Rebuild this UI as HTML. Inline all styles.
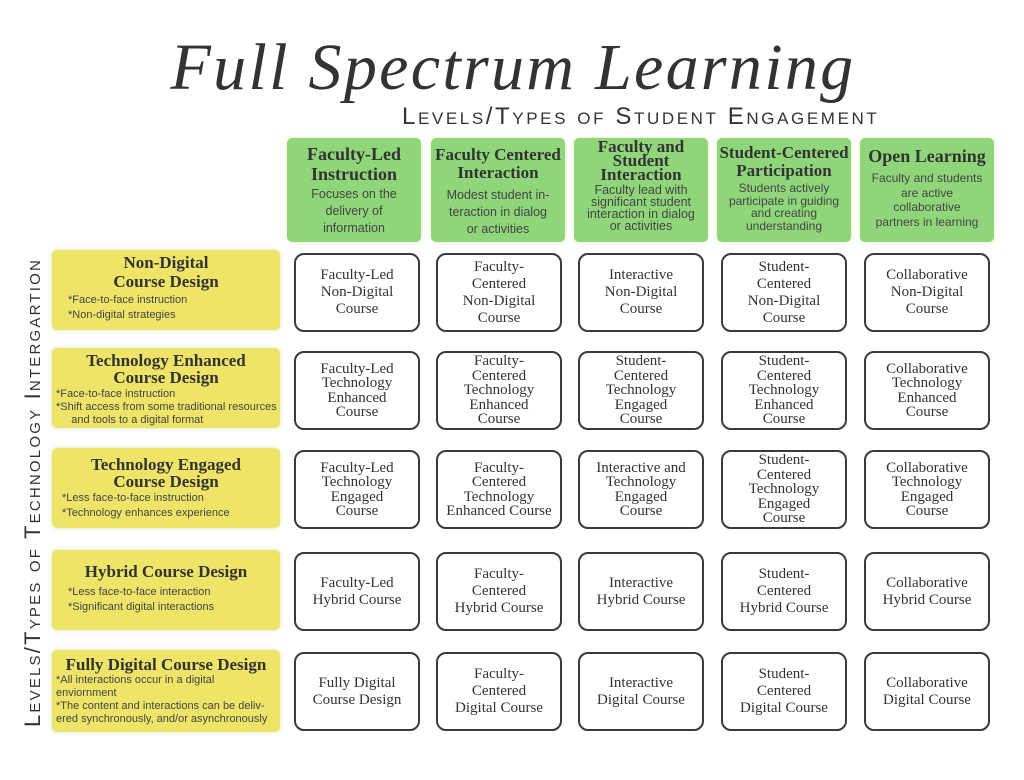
<!DOCTYPE html>
<html><head><meta charset="utf-8"><style>
*{margin:0;padding:0;box-sizing:border-box}
body{width:1024px;height:780px;background:#fff;position:relative;overflow:hidden;color:#333;font-family:"Liberation Sans",sans-serif}
.a{position:absolute}
.title{left:0;width:1024px;top:30px;text-align:center;font-family:"Liberation Serif",serif;font-style:italic;font-size:66px;color:#333;letter-spacing:2.3px;padding-left:2px}
.sub{left:402px;top:103px;font-size:24px;font-variant:small-caps;letter-spacing:2.6px;color:#333;white-space:nowrap}
.vert{left:20px;top:730px;transform-origin:0 0;transform:rotate(-90deg);font-size:22px;font-variant:small-caps;letter-spacing:2.2px;white-space:nowrap;width:475px;text-align:center}
.g{background:#8fd67a;border-radius:5px;box-shadow:0 0 4px #eee9b8;text-align:center;width:134px;height:104px;top:138px;padding-top:4px}
.g b{display:block;font-family:"Liberation Serif",serif;font-size:17px;line-height:18px;color:#333}
.g span{display:block;font-size:12.5px;line-height:17px;color:#444;margin-top:2px}
.y{background:#ede468;border-radius:5px;box-shadow:0 0 4px #cfe9b0;left:52px;width:228px;height:80px}
.y b{display:block;text-align:center;font-family:"Liberation Serif",serif;font-size:17px;line-height:17px;font-weight:bold;color:#333}
.y span{display:block;font-size:11px;line-height:14.5px;color:#444}
.c{border:2px solid #3a3a3a;border-radius:10px;width:126px;height:79px;display:flex;align-items:center;justify-content:center;text-align:center;font-family:"Liberation Serif",serif;font-size:15px;line-height:17px;color:#333}
.c.t{line-height:14.5px}
</style></head><body>
<div class="a title">Full Spectrum Learning</div>
<div class="a sub">Levels/Types of Student Engagement</div>
<div class="a vert">Levels/Types of Technology Intergartion</div>

<div class="a g" style="left:287px"><b style="font-size:18px;line-height:20px;margin-top:2px">Faculty-Led<br>Instruction</b><span>Focuses on the<br>delivery of<br>information</span></div>
<div class="a g" style="left:431px"><b style="margin-top:4px">Faculty Centered<br>Interaction</b><span style="margin-top:5px">Modest student in-<br>teraction in dialog<br>or activities</span></div>
<div class="a g" style="left:574px;padding-top:2px"><b style="font-size:17px;line-height:14px">Faculty and<br>Student<br>Interaction</b><span style="line-height:12px;font-size:12.5px">Faculty lead with<br>significant student<br>interaction in dialog<br>or activities</span></div>
<div class="a g" style="left:717px"><b style="margin-top:2px">Student-Centered<br>Participation</b><span style="line-height:12.5px;font-size:12px">Students actively<br>participate in guiding<br>and creating<br>understanding</span></div>
<div class="a g" style="left:860px"><b style="margin-top:5px;font-size:18px">Open Learning</b><span style="margin-top:6px;line-height:14.5px;font-size:12px">Faculty and students<br>are active<br>collaborative<br>partners in learning</span></div>

<div class="a y" style="top:250px;padding-top:3px"><b style="line-height:19px">Non-Digital<br>Course Design</b><span style="padding-left:16px;margin-top:2px">*Face-to-face instruction<br>*Non-digital strategies</span></div>
<div class="a y" style="top:348px;padding-top:4px"><b>Technology Enhanced<br>Course Design</b><span style="padding-left:4px;line-height:13px;margin-top:2px">*Face-to-face instruction<br>*Shift access from some traditional resources<br>&nbsp;&nbsp;&nbsp;&nbsp;&nbsp;and tools to a digital format</span></div>
<div class="a y" style="top:448px;padding-top:8px"><b>Technology Engaged<br>Course Design</b><span style="padding-left:10px;margin-top:1px">*Less face-to-face instruction<br>*Technology enhances experience</span></div>
<div class="a y" style="top:550px;padding-top:13px"><b>Hybrid Course Design</b><span style="padding-left:16px;margin-top:5px">*Less face-to-face interaction<br>*Significant digital interactions</span></div>
<div class="a y" style="top:650px;padding-top:6px;height:82px"><b>Fully Digital Course Design</b><span style="padding-left:4px;line-height:13px;margin-top:1px">*All interactions occur in a digital<br>enviornment<br>*The content and interactions can be deliv-<br>ered synchronously, and/or asynchronously</span></div>

<div class="a c" style="left:294px;top:253px">Faculty-Led<br>Non-Digital<br>Course</div>
<div class="a c" style="left:436px;top:253px">Faculty-<br>Centered<br>Non-Digital<br>Course</div>
<div class="a c" style="left:578px;top:253px">Interactive<br>Non-Digital<br>Course</div>
<div class="a c" style="left:721px;top:253px">Student-<br>Centered<br>Non-Digital<br>Course</div>
<div class="a c" style="left:864px;top:253px">Collaborative<br>Non-Digital<br>Course</div>

<div class="a c t" style="left:294px;top:351px">Faculty-Led<br>Technology<br>Enhanced<br>Course</div>
<div class="a c t" style="left:436px;top:351px">Faculty-<br>Centered<br>Technology<br>Enhanced<br>Course</div>
<div class="a c t" style="left:578px;top:351px">Student-<br>Centered<br>Technology<br>Engaged<br>Course</div>
<div class="a c t" style="left:721px;top:351px">Student-<br>Centered<br>Technology<br>Enhanced<br>Course</div>
<div class="a c t" style="left:864px;top:351px">Collaborative<br>Technology<br>Enhanced<br>Course</div>

<div class="a c t" style="left:294px;top:450px">Faculty-Led<br>Technology<br>Engaged<br>Course</div>
<div class="a c t" style="left:436px;top:450px">Faculty-<br>Centered<br>Technology<br>Enhanced Course</div>
<div class="a c t" style="left:578px;top:450px">Interactive and<br>Technology<br>Engaged<br>Course</div>
<div class="a c t" style="left:721px;top:450px">Student-<br>Centered<br>Technology<br>Engaged<br>Course</div>
<div class="a c t" style="left:864px;top:450px">Collaborative<br>Technology<br>Engaged<br>Course</div>

<div class="a c" style="left:294px;top:552px">Faculty-Led<br>Hybrid Course</div>
<div class="a c" style="left:436px;top:552px">Faculty-<br>Centered<br>Hybrid Course</div>
<div class="a c" style="left:578px;top:552px">Interactive<br>Hybrid Course</div>
<div class="a c" style="left:721px;top:552px">Student-<br>Centered<br>Hybrid Course</div>
<div class="a c" style="left:864px;top:552px">Collaborative<br>Hybrid Course</div>

<div class="a c" style="left:294px;top:652px">Fully Digital<br>Course Design</div>
<div class="a c" style="left:436px;top:652px">Faculty-<br>Centered<br>Digital Course</div>
<div class="a c" style="left:578px;top:652px">Interactive<br>Digital Course</div>
<div class="a c" style="left:721px;top:652px">Student-<br>Centered<br>Digital Course</div>
<div class="a c" style="left:864px;top:652px">Collaborative<br>Digital Course</div>
</body></html>
